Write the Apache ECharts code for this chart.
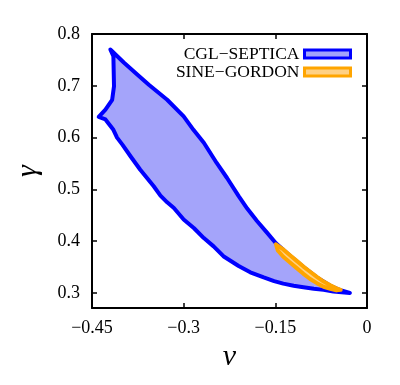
<!DOCTYPE html>
<html>
<head>
<meta charset="utf-8">
<script src="https://cdn.jsdelivr.net/npm/echarts@6/dist/echarts.min.js"></script>
<style>
  html, body { margin: 0; padding: 0; background: #fff; }
  #chart { width: 400px; height: 385px; }
</style>
</head>
<body>
<div id="chart"></div>
<script>
// region outlines, [nu, gamma]
const cglOutline = [
  [-0.420, 0.770], [-0.398, 0.745], [-0.376, 0.722], [-0.357, 0.702], [-0.327, 0.673],
  [-0.300, 0.641], [-0.284, 0.615], [-0.267, 0.590], [-0.246, 0.551], [-0.229, 0.522],
  [-0.210, 0.487], [-0.196, 0.463], [-0.180, 0.439], [-0.164, 0.417], [-0.149, 0.396],
  [-0.126, 0.372], [-0.104, 0.350], [-0.082, 0.330], [-0.060, 0.314], [-0.045, 0.306],
  [-0.028, 0.300],
  [-0.055, 0.303], [-0.071, 0.306], [-0.087, 0.308], [-0.104, 0.311], [-0.120, 0.314],
  [-0.137, 0.318], [-0.152, 0.323], [-0.169, 0.330], [-0.191, 0.340], [-0.210, 0.352],
  [-0.235, 0.371], [-0.251, 0.390], [-0.267, 0.406], [-0.283, 0.425], [-0.300, 0.442],
  [-0.316, 0.464], [-0.327, 0.475], [-0.338, 0.488], [-0.349, 0.506], [-0.360, 0.522],
  [-0.371, 0.538], [-0.387, 0.564], [-0.400, 0.586], [-0.409, 0.600], [-0.415, 0.615],
  [-0.428, 0.635], [-0.439, 0.640], [-0.428, 0.654], [-0.417, 0.673], [-0.414, 0.699],
  [-0.415, 0.757]
]
const sineGordonOutline = [
  [-0.149, 0.394], [-0.137, 0.384], [-0.126, 0.373], [-0.115, 0.362], [-0.104, 0.351],
  [-0.093, 0.341], [-0.082, 0.331], [-0.071, 0.322], [-0.060, 0.315], [-0.050, 0.309],
  [-0.043, 0.306],
  [-0.050, 0.305], [-0.060, 0.308], [-0.071, 0.312], [-0.082, 0.319], [-0.093, 0.327],
  [-0.104, 0.337], [-0.115, 0.348], [-0.126, 0.359], [-0.137, 0.370], [-0.146, 0.382]
]
const seriesNames = ['CGL\u2212SEPTICA', 'SINE\u2212GORDON']
const nuTicks = [-0.45, -0.3, -0.15, 0]
const gammaTicks = [0.3, 0.4, 0.5, 0.6, 0.7, 0.8]

const serif = 'Liberation Serif'
const blue = { fill: '#a4a4fa', stroke: '#0000ff' }
const orange = { fill: '#ffd185', stroke: '#ffa500' }

function fmtNu(v) {
  if (v === 0) return '0'
  return (v < 0 ? '\u2212' : '') + String(Math.abs(v))
}

function polygonSeries(name, outline, colors) {
  return {
    name,
    type: 'custom',
    xAxisIndex: 0,
    yAxisIndex: 0,
    itemStyle: { color: colors.fill, borderColor: colors.stroke },
    data: outline,
    renderItem(params, api) {
      if (params.dataIndex !== 0) return null
      return {
        type: 'polygon',
        shape: { points: outline.map((p) => api.coord(p)) },
        style: { fill: colors.fill, stroke: colors.stroke, lineWidth: 4, lineJoin: 'round' }
      }
    }
  }
}

const axisCommon = {
  axisLine: { show: true, onZero: false, lineStyle: { color: '#000', width: 2 } },
  axisTick: { show: true, inside: true, length: 5, lineStyle: { color: '#000', width: 1.5 } },
  splitLine: { show: false }
}

const chart = echarts.init(document.getElementById('chart'))
chart.setOption({
  animation: false,
  backgroundColor: '#fff',
  grid: { left: 92, right: 33, top: 34, bottom: 77 },
  legend: {
    right: 43,
    top: 40,
    orient: 'vertical',
    align: 'right',
    itemWidth: 46,
    itemHeight: 8,
    itemGap: 0,
    textStyle: { fontFamily: serif, fontSize: 17.5, color: '#000', lineHeight: 17 },
    data: [
      { name: seriesNames[0], icon: 'rect', itemStyle: { color: blue.fill, borderColor: blue.stroke, borderWidth: 3 } },
      { name: seriesNames[1], icon: 'rect', itemStyle: { color: orange.fill, borderColor: orange.stroke, borderWidth: 3 } }
    ]
  },
  xAxis: [
    {
      ...axisCommon,
      type: 'value',
      position: 'bottom',
      min: nuTicks[0],
      max: nuTicks[nuTicks.length - 1],
      interval: 0.15,
      name: '\u03bd',
      nameLocation: 'middle',
      nameGap: 34,
      nameTextStyle: { fontFamily: serif, fontStyle: 'italic', fontSize: 30, color: '#000' },
      axisLabel: { margin: 11, fontFamily: serif, fontSize: 18, color: '#000', formatter: fmtNu }
    },
    {
      ...axisCommon,
      type: 'value',
      position: 'top',
      min: nuTicks[0],
      max: nuTicks[nuTicks.length - 1],
      interval: 0.15,
      axisLabel: { show: false }
    }
  ],
  yAxis: [
    {
      ...axisCommon,
      type: 'value',
      position: 'left',
      min: 0.271,
      max: 0.8,
      name: '\u03b3',
      nameLocation: 'middle',
      nameGap: 49,
      nameTextStyle: { fontFamily: serif, fontStyle: 'italic', fontSize: 30, color: '#000' },
      axisTick: { ...axisCommon.axisTick, customValues: gammaTicks },
      axisLabel: {
        margin: 12, fontFamily: serif, fontSize: 18, color: '#000',
        customValues: gammaTicks,
        formatter: (v) => v.toFixed(1)
      }
    },
    {
      ...axisCommon,
      type: 'value',
      position: 'right',
      min: 0.271,
      max: 0.8,
      axisTick: { ...axisCommon.axisTick, customValues: gammaTicks },
      axisLabel: { show: false, customValues: gammaTicks }
    }
  ],
  series: [
    polygonSeries(seriesNames[0], cglOutline, blue),
    polygonSeries(seriesNames[1], sineGordonOutline, orange)
  ]
})
</script>
</body>
</html>
